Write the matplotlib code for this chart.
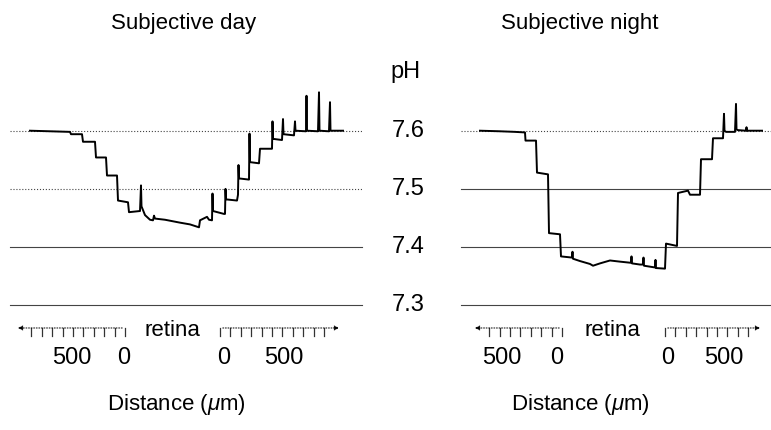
import matplotlib
matplotlib.use("Agg")
import matplotlib.pyplot as plt
import numpy as np

plt.rcParams['font.family'] = ['Liberation Sans', 'DejaVu Sans']
plt.rcParams['mathtext.fontset'] = 'custom'
plt.rcParams['mathtext.rm'] = 'Liberation Sans'
plt.rcParams['mathtext.it'] = 'Liberation Sans:italic'

# pH traces (x = position along the recording, arbitrary units)
day_x = [30, 50, 70, 71, 82, 83, 95, 96, 106, 107, 117, 118, 128, 129,
         140, 141, 141.5, 145, 150, 153, 154, 155, 165, 180, 190, 199,
         200, 207, 209, 212, 212.5, 213, 224, 225, 225.5, 226, 237, 238,
         238.5, 239, 249, 249.5, 250, 259, 260, 272, 272.5, 273, 282,
         283, 283.5, 294, 295, 295.5, 306, 306.5, 307, 318, 319, 319.5,
         329, 330, 330.5, 343]
day_ph = [7.600, 7.599, 7.598, 7.594, 7.594, 7.581, 7.581, 7.554, 7.554,
          7.523, 7.523, 7.480, 7.477, 7.460, 7.462, 7.506, 7.470, 7.455,
          7.447, 7.446, 7.454, 7.449, 7.447, 7.442, 7.439, 7.434, 7.446,
          7.452, 7.447, 7.446, 7.492, 7.462, 7.457, 7.457, 7.500, 7.482,
          7.480, 7.490, 7.541, 7.518, 7.516, 7.595, 7.546, 7.544, 7.569,
          7.569, 7.616, 7.586, 7.584, 7.620, 7.594, 7.592, 7.616, 7.600,
          7.599, 7.660, 7.600, 7.599, 7.666, 7.600, 7.599, 7.649, 7.600,
          7.600]

night_x = [90, 110, 125, 135, 135.5, 146, 147, 158, 159, 170, 171, 182,
           182.5, 183, 190, 200, 203, 210, 220, 230, 241, 241.5, 242, 250,
           253, 253.5, 254, 265, 265.5, 266, 275, 276, 287, 288, 298, 300,
           310, 311, 322, 323, 333, 334, 334.5, 336, 345, 346, 346.5, 348,
           356, 356.5, 357, 372]
night_ph = [7.600, 7.599, 7.598, 7.597, 7.583, 7.583, 7.528, 7.525, 7.424,
            7.422, 7.384, 7.382, 7.392, 7.380, 7.376, 7.371, 7.368, 7.372,
            7.377, 7.375, 7.373, 7.384, 7.372, 7.370, 7.370, 7.382, 7.368,
            7.365, 7.378, 7.364, 7.363, 7.406, 7.402, 7.493, 7.497, 7.490,
            7.490, 7.551, 7.551, 7.587, 7.587, 7.629, 7.600, 7.598, 7.598,
            7.646, 7.602, 7.601, 7.600, 7.606, 7.600, 7.600]

ph_ticks = [7.6, 7.5, 7.4, 7.3]
scale_labels = ['500', '0', '0', '500']

YLO, YHI = 7.0857, 7.8246   # full figure height in pH units
fig = plt.figure(figsize=(7.71, 4.30), dpi=100)
axL = fig.add_axes([0, 0, 390 / 771, 1])
axR = fig.add_axes([390 / 771, 0, 381 / 771, 1])
for ax, w in ((axL, 390), (axR, 381)):
    ax.set_xlim(0, w)
    ax.set_ylim(YLO, YHI)
    ax.axis('off')

# reference lines
left_styles = [':', ':', '-', '-']
right_styles = [':', '-', '-', '-']
for p, ls in zip(ph_ticks, left_styles):
    axL.plot([10, 362], [p, p], ls=ls, color='#444444', lw=0.8)
for p, ls in zip(ph_ticks, right_styles):
    axR.plot([71, 381], [p, p], ls=ls, color='#444444', lw=0.8)
    axR.text(18, p, f'{p:.1f}', ha='center', va='center', fontsize=17)
axR.text(15, 7.701, 'pH', ha='center', va='center', fontsize=17)

axL.plot(day_x, day_ph, color='black', lw=1.4)
axR.plot(night_x, night_ph, color='black', lw=1.4)

axL.text(184, 7.785, 'Subjective day', ha='center', va='center', fontsize=16)
axR.text(190, 7.785, 'Subjective night', ha='center', va='center', fontsize=16)


def scale_bar(ax, x0, x1, x2, x3, retina_x, label_x):
    y = 7.261
    tl = 0.014
    # left bar, arrow pointing away from the retina
    ax.annotate('', xy=(x0, y), xytext=(x1, y),
                arrowprops=dict(arrowstyle='-|>', lw=0.7, color='black',
                                mutation_scale=7, linestyle=':'))
    for t in np.arange(x1, x0 + 12, -10.4):
        ax.plot([t, t], [y, y - tl], color='#333333', lw=0.9)
    ax.annotate('', xy=(x3, y), xytext=(x2, y),
                arrowprops=dict(arrowstyle='-|>', lw=0.7, color='black',
                                mutation_scale=7, linestyle=':'))
    for t in np.arange(x2, x3 - 14, 10.4):
        ax.plot([t, t], [y, y - tl], color='#333333', lw=0.9)
    ax.text(retina_x, y - 0.004, 'retina', ha='center', va='center',
            fontsize=16)
    for lx, lab in zip(label_x, scale_labels):
        ax.text(lx, 7.209, lab, ha='center', va='center', fontsize=17)


scale_bar(axL, 15, 125, 220, 342, 172, [72, 124, 224, 284])
scale_bar(axR, 82, 172, 275, 373, 222, [112, 167, 278, 334])

axL.text(176, 7.129, r'Distance ($\mathit{\mu}$m)', ha='center',
         va='center', fontsize=16)
axR.text(190, 7.129, r'Distance ($\mathit{\mu}$m)', ha='center',
         va='center', fontsize=16)

fig.savefig('out.png', dpi=100)
